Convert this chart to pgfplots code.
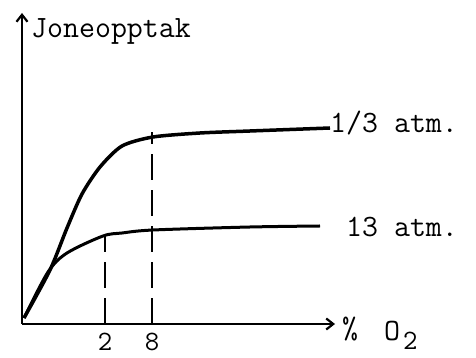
\documentclass[border=0pt]{standalone}
\usepackage{pgfplots}
\pgfplotsset{compat=1.18}
\usetikzlibrary{arrows.meta}

\newcommand{\tw}{\ttfamily\fontsize{31}{34}\selectfont}
\newcommand{\twsmall}{\ttfamily\fontsize{28}{31}\selectfont}

\begin{document}
\begin{tikzpicture}
\begin{axis}[
  at={(0,0)}, anchor=origin,
  scale only axis,
  width=313pt, height=311pt,
  xmin=0, xmax=313, ymin=0, ymax=311,
  axis lines=left,
  axis line style={line width=2.6pt, -{Straight Barb[length=7pt,width=11pt,line width=2.2pt]}},
  xtick={83,130},
  xticklabels={2,8},
  xticklabel style={font=\twsmall, anchor=base, yshift=-27pt, inner sep=0pt},
  major tick length=0pt,
  ytick=\empty,
  clip=false,
]
  % reserve the full drawing area
  \path (axis cs:-22,-34) rectangle (axis cs:454,324);

  % uptake curve at 1/3 atm
  \addplot[black, line width=3.5pt, smooth, tension=0.45] coordinates {
    (2,6) (28,54) (45,96) (60,130) (78,157) (100,178) (131,187)
    (178,191) (228,193) (308,196)
  };
  % uptake curve at 13 atm
  \addplot[black, line width=3pt, smooth, tension=0.5] coordinates {
    (2,6) (26,52) (45,71) (81,88) (100,91) (131,94) (228,97) (298,98)
  };

  % guide lines down to the x axis
  \addplot[black, line width=2.2pt, dash pattern=on 26pt off 10pt] coordinates {(83,0) (83,90)};
  \addplot[black, line width=2.2pt, dash pattern=on 26pt off 10pt] coordinates {(130,0) (130,192)};

  % labels
  \node[font=\tw, anchor=base west, inner sep=0pt] at (axis cs:9,286) {Joneopptak};
  \node[font=\tw, anchor=base west, inner sep=0pt] at (axis cs:308,191) {1/3 atm.};
  \node[font=\tw, anchor=base west, inner sep=0pt] at (axis cs:324,87) {13 atm.};
  \node[font=\tw, anchor=base west, inner sep=0pt] at (axis cs:320,-15) {\%};
  \node[font=\tw, anchor=base west, inner sep=0pt] at (axis cs:362,-17) {O};
  \node[font=\twsmall, anchor=base west, inner sep=0pt] at (axis cs:381,-26) {2};
\end{axis}
\end{tikzpicture}
\end{document}
